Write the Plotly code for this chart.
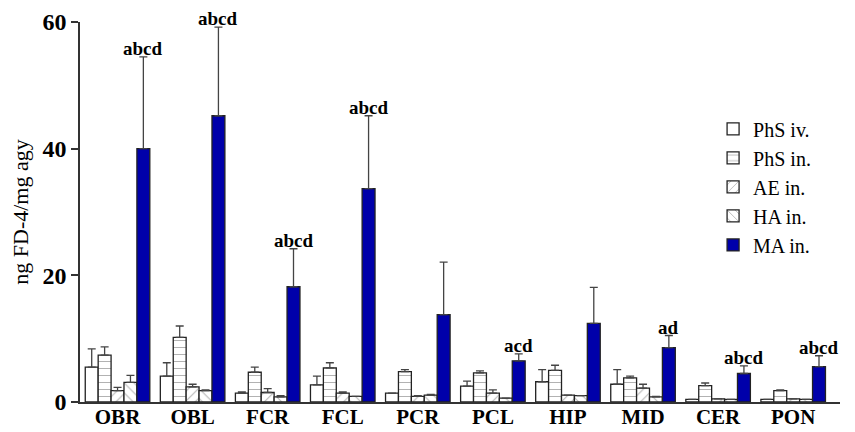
import plotly.graph_objects as go

regions = ["OBR", "OBL", "FCR", "FCL", "PCR", "PCL", "HIP", "MID", "CER", "PON"]

phs_iv = [5.5, 4.1, 1.4, 2.7, 1.4, 2.5, 3.2, 2.8, 0.4, 0.4]
phs_iv_err = [2.9, 2.1, 0.2, 1.4, 0.0, 0.8, 1.9, 2.3, 0.0, 0.0]
phs_in = [7.4, 10.2, 4.7, 5.4, 4.8, 4.6, 5.0, 3.8, 2.6, 1.8]
phs_in_err = [1.3, 1.8, 0.8, 0.8, 0.3, 0.3, 0.8, 0.3, 0.4, 0.1]
ae_in = [1.8, 2.4, 1.5, 1.4, 0.9, 1.4, 1.1, 2.2, 0.5, 0.5]
ae_in_err = [0.5, 0.4, 0.6, 0.2, 0.1, 0.5, 0.0, 0.6, 0.0, 0.0]
ha_in = [3.1, 1.8, 0.8, 0.9, 1.1, 0.6, 1.0, 0.8, 0.4, 0.4]
ha_in_err = [1.1, 0.1, 0.2, 0.0, 0.1, 0.0, 0.0, 0.1, 0.0, 0.0]
ma_in = [40.0, 45.2, 18.2, 33.7, 13.8, 6.5, 12.4, 8.6, 4.5, 5.6]
ma_in_err = [14.5, 14.0, 6.0, 11.5, 8.3, 1.1, 5.7, 1.9, 1.2, 1.7]
sig_labels = ["abcd", "abcd", "abcd", "abcd", "", "acd", "", "ad", "abcd", "abcd"]

series = [
    ("PhS iv.", phs_iv, phs_iv_err, "white", ""),
    ("PhS in.", phs_in, phs_in_err, "white", "-"),
    ("AE in.", ae_in, ae_in_err, "white", "/"),
    ("HA in.", ha_in, ha_in_err, "white", "\\"),
    ("MA in.", ma_in, ma_in_err, "#0000AA", ""),
]

BARGAP = 0.14
serif = "Liberation Serif, Times New Roman, serif"

fig = go.Figure()
for name, vals, errs, color, pat in series:
    marker = dict(color=color, line=dict(color="#222222", width=1.3))
    if pat:
        marker["pattern"] = dict(shape=pat, fgcolor="#666666", bgcolor="white",
                                 size=7, solidity=0.15)
    fig.add_trace(go.Bar(
        x=regions, y=vals, name=name, marker=marker,
        error_y=dict(type="data", array=errs, arrayminus=[0] * len(errs),
                     symmetric=False, color="#444444", thickness=1.3, width=4),
    ))

for i, lab in enumerate(sig_labels):
    if lab:
        fig.add_annotation(
            x=i + 0.4 * (1 - BARGAP), y=ma_in[i] + ma_in_err[i], xref="x", yref="y",
            text=lab, showarrow=False, yanchor="bottom", yshift=-3, borderpad=0,
            font=dict(family=serif, size=19, color="black", weight="bold"),
        )

fig.update_layout(
    width=855, height=432,
    barmode="group", bargap=BARGAP, bargroupgap=0,
    plot_bgcolor="white", paper_bgcolor="white",
    margin=dict(l=72, r=23, t=14, b=38),
    font=dict(family=serif, color="black"),
    showlegend=True,
    legend=dict(x=0.833, y=0.77, xanchor="left", yanchor="top",
                font=dict(family=serif, size=20, color="black"),
                bgcolor="rgba(0,0,0,0)", itemwidth=30, tracegroupgap=0),
)
fig.update_xaxes(
    automargin=False,
    showline=True, linecolor="#333333", linewidth=1.5, ticks="",
    tickfont=dict(family=serif, size=21, color="black", weight="bold"),
    ticklabelstandoff=-5,
    showgrid=False,
)
fig.update_yaxes(
    automargin=False,
    range=[0, 60], tickvals=[0, 20, 40, 60], showline=True, linecolor="#333333",
    linewidth=1.5, ticks="outside", ticklen=7, tickwidth=1.5, tickcolor="#333333",
    tickfont=dict(family=serif, size=24, color="black", weight="bold"),
    showgrid=False, zeroline=False,
    title=dict(text="ng FD-4/mg agy", font=dict(family=serif, size=22, color="black"),
               standoff=10),
)

fig.write_html("out.html")
